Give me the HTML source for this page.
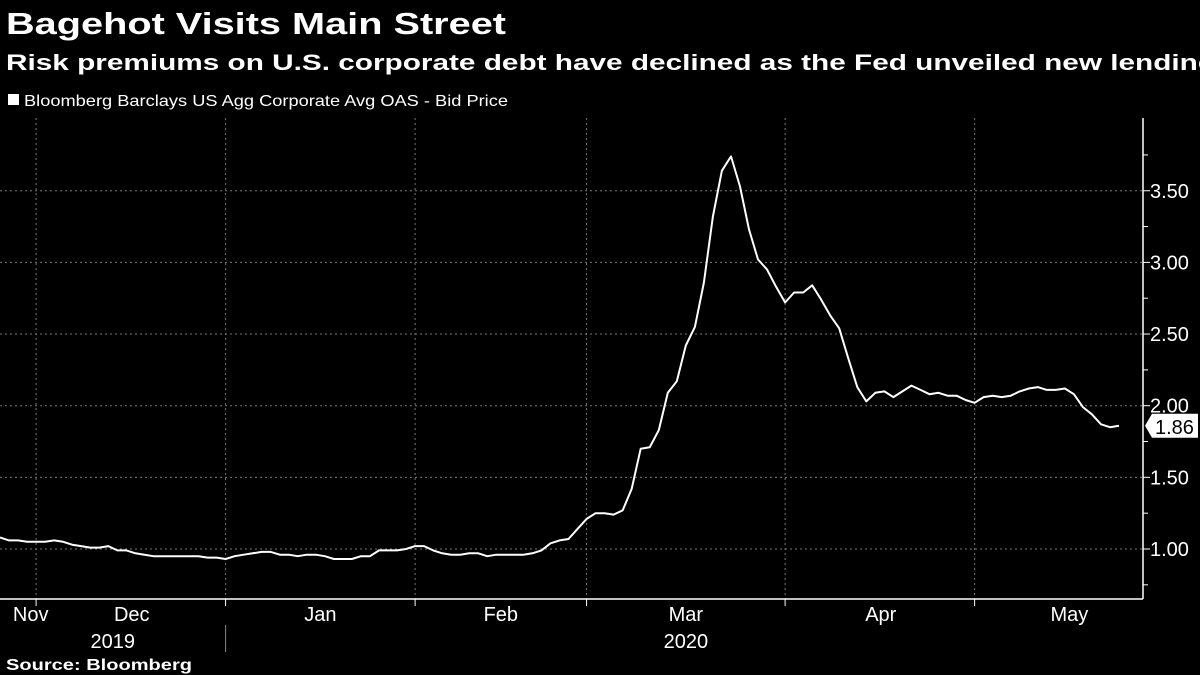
<!DOCTYPE html>
<html><head><meta charset="utf-8"><style>
body{margin:0;background:#000;width:1200px;height:675px;overflow:hidden;font-family:"Liberation Sans",sans-serif;color:#fff}
svg{position:absolute;left:0;top:0}
</style></head><body>
<svg id="c" width="1200" height="675">
<text x="6" y="34" font-size="31" font-weight="bold" fill="#fff" textLength="500" lengthAdjust="spacingAndGlyphs">Bagehot Visits Main Street</text>
<text x="6" y="70" font-size="22" font-weight="bold" fill="#fff" textLength="1210" lengthAdjust="spacingAndGlyphs">Risk premiums on U.S. corporate debt have declined as the Fed unveiled new lending</text>
<rect x="8" y="94" width="11" height="11" fill="#fff"/>
<text x="24" y="106" font-size="16" fill="#fff" textLength="484" lengthAdjust="spacingAndGlyphs">Bloomberg Barclays US Agg Corporate Avg OAS - Bid Price</text>
<text x="6" y="670" font-size="16" font-weight="bold" fill="#fff" textLength="186" lengthAdjust="spacingAndGlyphs">Source:  Bloomberg</text>
<g id="grid"></g><g id="axes"></g><g id="series"></g>
</svg>
<script>
const yTicks=[1.0,1.5,2.0,2.5,3.0,3.5];
const yTickLabels=["1.00","1.50","2.00","2.50","3.00","3.50"];
const monthLabels=["Nov","Dec","Jan","Feb","Mar","Apr","May"];
const monthLabelPos=[3.4,14.6,35.5,55.5,76,97.6,118.5];
const gridPos=[4,25,46,65,87,108];
const yearLabels=["2019","2020"];
const yearLabelPos=[12.5,76];
const values=[1.08,1.06,1.06,1.05,1.05,1.05,1.06,1.05,1.03,1.02,1.01,1.01,1.02,0.99,0.99,0.97,0.96,0.95,0.95,0.95,0.95,0.95,0.95,0.94,0.94,0.93,0.95,0.96,0.97,0.98,0.98,0.96,0.96,0.95,0.96,0.96,0.95,0.93,0.93,0.93,0.95,0.95,0.99,0.99,0.99,1.00,1.02,1.02,0.99,0.97,0.96,0.96,0.97,0.97,0.95,0.96,0.96,0.96,0.96,0.97,0.99,1.04,1.06,1.07,1.14,1.21,1.25,
1.25,1.24,1.27,1.42,
1.70,1.71,1.83,2.09,2.17,2.42,2.55,2.86,3.32,3.64,3.74,3.53,3.23,3.02,2.95,2.83,2.72,2.79,2.79,2.84,2.74,2.63,2.54,2.33,2.13,2.03,2.09,2.10,2.06,2.10,2.14,2.11,2.08,2.09,2.07,2.07,2.04,2.02,2.06,2.07,2.06,2.07,2.10,2.12,2.13,2.11,2.11,2.12,2.08,1.99,1.94,1.87,1.85,1.86];
const lastLabel="1.86";
const NS="http://www.w3.org/2000/svg";
const step=1119/(values.length-1);
const xs=i=>i*step;
const ys=v=>549-(v-1)*143.3;
function mk(t,a,p){const e=document.createElementNS(NS,t);for(const k in a)e.setAttribute(k,a[k]);p.appendChild(e);return e;}
const G=document.getElementById('grid'),A=document.getElementById('axes'),S=document.getElementById('series');
yTicks.forEach((v,i)=>{
  const l=mk('line',{x1:0,x2:1143,y1:ys(v),y2:ys(v),stroke:'#777','stroke-dasharray':'2,3','stroke-width':1},G);
  
  
  const tk=mk('line',{x1:1143,x2:1150,y1:ys(v),y2:ys(v),stroke:'#fff'},A);
  
  
  const mt=mk('line',{x1:1143,x2:1148,y1:ys(v+0.25),y2:ys(v+0.25),stroke:'#fff'},A);
  
  
  const t=mk('text',{x:1150,y:ys(v)+7,'font-size':20,fill:'#fff'},A);
  t.textContent=yTickLabels[i];
  
  
});
const mt0=mk('line',{x1:1143,x2:1148,y1:ys(0.75),y2:ys(0.75),stroke:'#fff'},A);


gridPos.forEach(g=>{
  const l=mk('line',{x1:xs(g),x2:xs(g),y1:118,y2:599,stroke:'#777','stroke-dasharray':'2,3'},G);
  
  
  const tk=mk('line',{x1:xs(g),x2:xs(g),y1:599,y2:606,stroke:'#fff'},A);
  
  
});
const ya=mk('line',{x1:1143,x2:1143,y1:118,y2:599,stroke:'#fff','stroke-width':1.5},A);


const xa=mk('line',{x1:0,x2:1143,y1:599,y2:599,stroke:'#fff','stroke-width':1.5},A);


monthLabels.forEach((m,i)=>{
  const t=mk('text',{x:xs(monthLabelPos[i]),y:621,'font-size':20,fill:'#fff','text-anchor':'middle'},A);
  t.textContent=m;
  
  
});
yearLabels.forEach((y,i)=>{
  const t=mk('text',{x:xs(yearLabelPos[i]),y:648,'font-size':20,fill:'#fff','text-anchor':'middle'},A);
  t.textContent=y;
  
  
});
const sep=mk('line',{x1:xs(25),x2:xs(25),y1:625,y2:652,stroke:'#888'},A);


const line=mk('polyline',{points:values.map((v,i)=>xs(i).toFixed(1)+','+ys(v).toFixed(1)).join(' '),fill:'none',stroke:'#fff','stroke-width':2,'stroke-linejoin':'round'},S);


const lv=values[values.length-1],ly=ys(lv);
const cb=mk('polygon',{points:`1145,${ly} 1152,${ly-12} 1198,${ly-12} 1198,${ly+12} 1152,${ly+12}`,fill:'#fff'},A);


const ct=mk('text',{x:1155,y:ly+8,'font-size':20,fill:'#000'},A);
ct.textContent=lastLabel;


</script>
</body></html>
